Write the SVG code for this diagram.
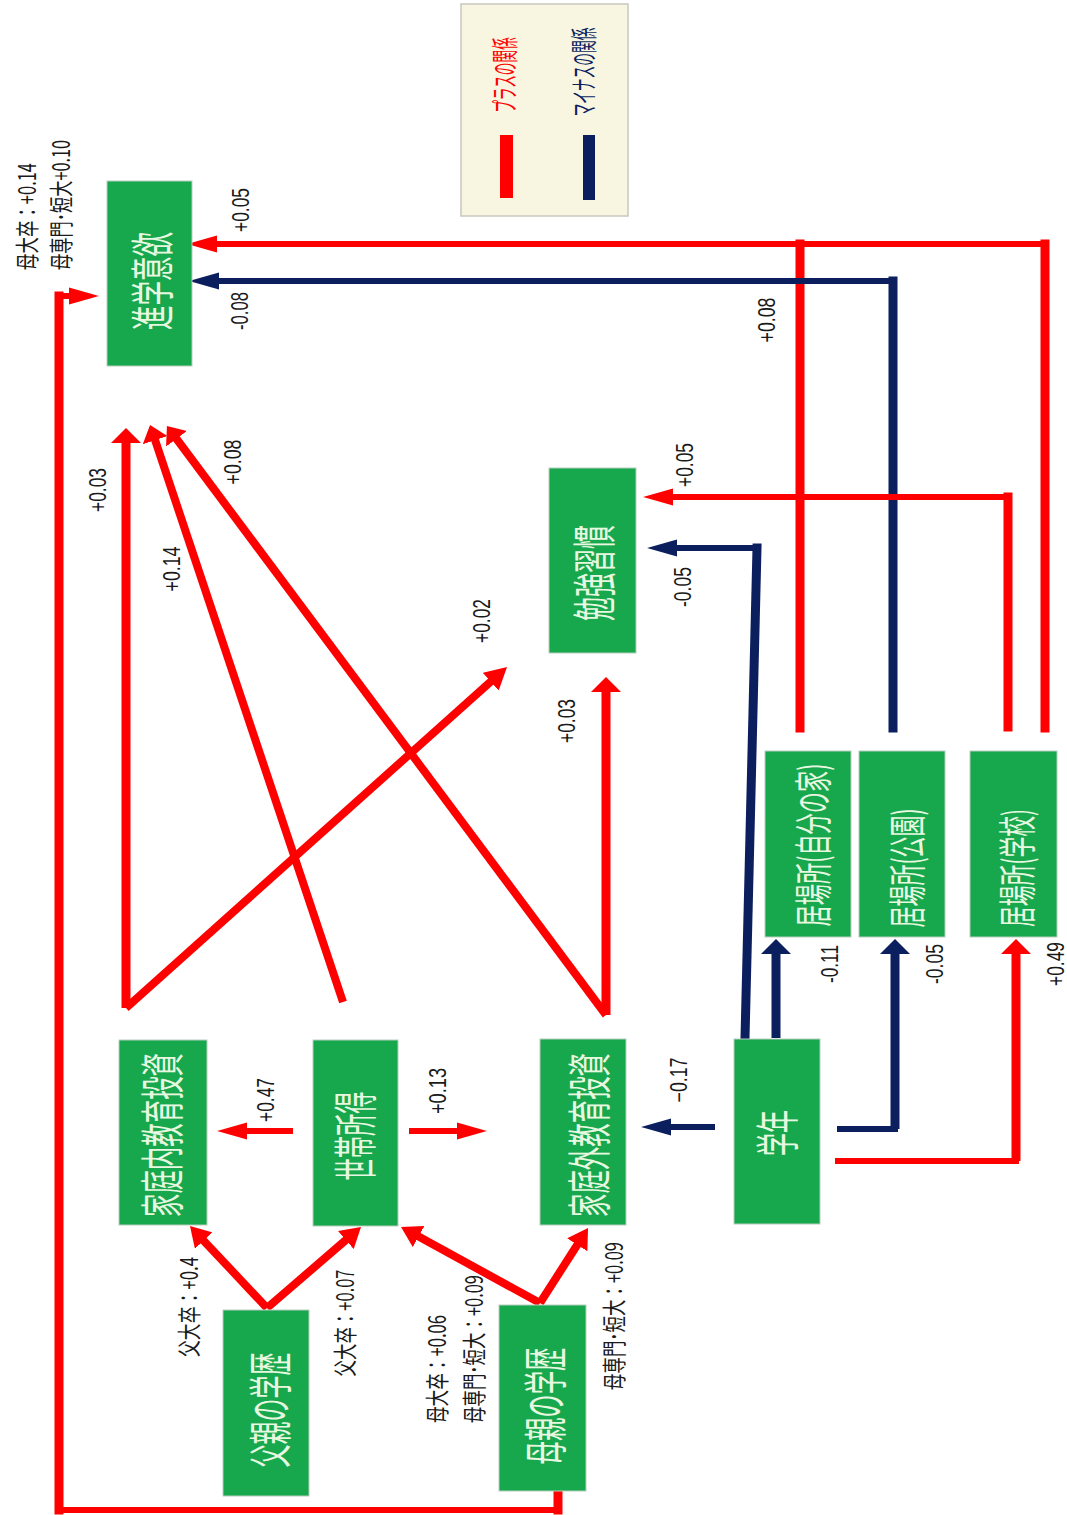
<svg xmlns="http://www.w3.org/2000/svg" width="1067" height="1515" viewBox="0 0 1067 1515">
<style>
.bg{fill:#ffffff}
.box{fill:#17a74d;stroke:#b8cdbd;stroke-width:1}
.nt{font-family:"Noto Sans CJK JP",sans-serif;font-size:44px;fill:#e8f8e0;text-anchor:middle;dominant-baseline:central}
.nts{font-family:"Noto Sans CJK JP",sans-serif;font-size:38px;fill:#e8f8e0;text-anchor:middle;dominant-baseline:central}
.lb{font-family:"Liberation Sans","Noto Sans CJK JP",sans-serif;font-size:23px;fill:#1a1a1a;text-anchor:middle;dominant-baseline:central}
.lj{font-family:"Noto Sans CJK JP",sans-serif;font-size:24px;fill:#1a1a1a;dominant-baseline:central}
.ljm{text-anchor:middle}
.ljs{text-anchor:start}
.r{stroke:#ff0000;fill:none}
.n{stroke:#0b1f5f;fill:none}
.v{stroke-width:9}
.h{stroke-width:6}
.d{stroke-width:8}
.sq{stroke-linecap:square}
.leg{fill:#f8f6e1;stroke:#c8c8c0;stroke-width:1.5}
.lt{font-family:"Noto Sans CJK JP",sans-serif;font-size:27px;text-anchor:middle;dominant-baseline:central}
</style>
<defs>
<marker id="hR" markerUnits="userSpaceOnUse" orient="auto" markerWidth="30" markerHeight="18" refX="1" refY="8" viewBox="0 0 28 16"><path d="M0,0 L28,8 L0,16 z" fill="#ff0000"/></marker>
<marker id="hN" markerUnits="userSpaceOnUse" orient="auto" markerWidth="30" markerHeight="18" refX="1" refY="8" viewBox="0 0 28 16"><path d="M0,0 L28,8 L0,16 z" fill="#0b1f5f"/></marker>
<marker id="vR" markerUnits="userSpaceOnUse" orient="auto" markerWidth="16" markerHeight="30" refX="1" refY="15" viewBox="0 0 15 30"><path d="M0,0 L15,15 L0,30 z" fill="#ff0000"/></marker>
<marker id="vN" markerUnits="userSpaceOnUse" orient="auto" markerWidth="16" markerHeight="30" refX="1" refY="15" viewBox="0 0 15 30"><path d="M0,0 L15,15 L0,30 z" fill="#0b1f5f"/></marker>
<marker id="sR" markerUnits="userSpaceOnUse" orient="auto" markerWidth="16" markerHeight="26" refX="1" refY="13" viewBox="0 0 16 26"><path d="M0,0 L16,13 L0,26 z" fill="#ff0000"/></marker>
<marker id="dR" markerUnits="userSpaceOnUse" orient="auto" markerWidth="22" markerHeight="24" refX="1" refY="12" viewBox="0 0 22 24"><path d="M0,0 L22,12 L0,24 z" fill="#ff0000"/></marker>
<marker id="fR" markerUnits="userSpaceOnUse" orient="auto" markerWidth="20" markerHeight="24" refX="1" refY="12" viewBox="0 0 20 24"><path d="M0,0 L20,12 L0,24 z" fill="#ff0000"/></marker>
</defs>
<rect class="bg" x="0" y="0" width="1067" height="1515"/>

<g id="legend">
<rect class="leg" x="461" y="4" width="167" height="212"/>
<rect x="500" y="135" width="13" height="63" fill="#ff0000"/>
<rect x="583" y="135" width="12" height="65" fill="#0b1f5f"/>
<text class="lt" fill="#ff0000" transform="translate(503,75) rotate(-90) scale(0.469,1)">プラスの関係</text>
<text class="lt" fill="#0b1f5f" transform="translate(582,72) rotate(-90) scale(0.471,1)">マイナスの関係</text>
</g>

<g id="connectors">
<line class="r v sq" x1="800" y1="728" x2="800" y2="244"/>
<line class="r v sq" x1="1045" y1="728" x2="1045" y2="244"/>
<line class="r h" x1="1045" y1="244" x2="216" y2="244" marker-end="url(#hR)"/>
<line class="n v sq" x1="893" y1="728" x2="893" y2="281"/>
<line class="n h" x1="893" y1="281" x2="218" y2="281" marker-end="url(#hN)"/>
<line class="r v sq" x1="558" y1="1492" x2="558" y2="1510"/>
<line class="r h sq" x1="558" y1="1510" x2="59" y2="1510"/>
<line class="r v sq" x1="59" y1="1510" x2="59" y2="296"/>
<line class="r h" x1="59" y1="296" x2="70" y2="296" marker-end="url(#hR)"/>
<line class="r v sq" x1="1008" y1="727" x2="1008" y2="497"/>
<line class="r h" x1="1008" y1="497" x2="672" y2="497" marker-end="url(#hR)"/>
<line class="n v sq" x1="745" y1="1038" x2="757" y2="548"/>
<line class="n h" x1="757" y1="548" x2="676" y2="548" marker-end="url(#hN)"/>
<line class="r v" x1="126" y1="1008" x2="126" y2="442" marker-end="url(#vR)"/>
<line class="r d" x1="126" y1="1008" x2="491.4" y2="681" marker-end="url(#dR)"/>
<line class="r d" x1="343" y1="1002" x2="154.8" y2="439.2" marker-end="url(#sR)"/>
<line class="r d" x1="606" y1="1015" x2="175.9" y2="438" marker-end="url(#sR)"/>
<line class="r v" x1="606" y1="1015" x2="606" y2="691" marker-end="url(#vR)"/>
<line class="n h" x1="715" y1="1127" x2="670" y2="1127" marker-end="url(#hN)"/>
<line class="n v" x1="776" y1="1038" x2="776" y2="953" marker-end="url(#vN)"/>
<line class="n h sq" x1="840" y1="1129" x2="895" y2="1129"/>
<line class="n v" x1="895" y1="1129" x2="895" y2="953" marker-end="url(#vN)"/>
<line class="r h sq" x1="838" y1="1161" x2="1016" y2="1161"/>
<line class="r v" x1="1016" y1="1161" x2="1016" y2="953" marker-end="url(#vR)"/>
<line class="r h" x1="293" y1="1131" x2="246" y2="1131" marker-end="url(#hR)"/>
<line class="r h" x1="409" y1="1131" x2="458" y2="1131" marker-end="url(#hR)"/>
<line class="r d" x1="267" y1="1308" x2="203" y2="1239.9" marker-end="url(#fR)"/>
<line class="r d" x1="267" y1="1308" x2="346.6" y2="1239.4" marker-end="url(#fR)"/>
<line class="r d" x1="540" y1="1303" x2="417.7" y2="1236.1" marker-end="url(#fR)"/>
<line class="r d" x1="540" y1="1303" x2="577.8" y2="1244" marker-end="url(#fR)"/>

<text class="lb" transform="translate(241,210) rotate(-90)" textLength="44" lengthAdjust="spacingAndGlyphs">+0.05</text>
<text class="lb" transform="translate(240,311) rotate(-90)" textLength="38" lengthAdjust="spacingAndGlyphs">-0.08</text>
<text class="lb" transform="translate(767,320) rotate(-90)" textLength="45" lengthAdjust="spacingAndGlyphs">+0.08</text>
<text class="lb" transform="translate(98,490) rotate(-90)" textLength="44" lengthAdjust="spacingAndGlyphs">+0.03</text>
<text class="lb" transform="translate(172,569) rotate(-90)" textLength="45" lengthAdjust="spacingAndGlyphs">+0.14</text>
<text class="lb" transform="translate(233,462) rotate(-90)" textLength="45" lengthAdjust="spacingAndGlyphs">+0.08</text>
<text class="lb" transform="translate(482,621) rotate(-90)" textLength="44" lengthAdjust="spacingAndGlyphs">+0.02</text>
<text class="lb" transform="translate(567,721) rotate(-90)" textLength="44" lengthAdjust="spacingAndGlyphs">+0.03</text>
<text class="lb" transform="translate(685,465) rotate(-90)" textLength="44" lengthAdjust="spacingAndGlyphs">+0.05</text>
<text class="lb" transform="translate(683,587) rotate(-90)" textLength="40" lengthAdjust="spacingAndGlyphs">-0.05</text>
<text class="lb" transform="translate(679,1080) rotate(-90)" textLength="45" lengthAdjust="spacingAndGlyphs">−0.17</text>
<text class="lb" transform="translate(266,1100) rotate(-90)" textLength="44" lengthAdjust="spacingAndGlyphs">+0.47</text>
<text class="lb" transform="translate(438,1091) rotate(-90)" textLength="46" lengthAdjust="spacingAndGlyphs">+0.13</text>
<text class="lb" transform="translate(830,964) rotate(-90)" textLength="38" lengthAdjust="spacingAndGlyphs">-0.11</text>
<text class="lb" transform="translate(935,964) rotate(-90)" textLength="40" lengthAdjust="spacingAndGlyphs">-0.05</text>
<text class="lb" transform="translate(1056,964) rotate(-90)" textLength="44" lengthAdjust="spacingAndGlyphs">+0.49</text>
<text class="lj ljs" transform="translate(25,270) rotate(-90)" textLength="107" lengthAdjust="spacingAndGlyphs">母大卒：+0.14</text>
<text class="lj ljs" transform="translate(59,270) rotate(-90)" textLength="130" lengthAdjust="spacingAndGlyphs">母専門･短大+0.10</text>
<text class="lj ljm" transform="translate(187,1307) rotate(-90)" textLength="100" lengthAdjust="spacingAndGlyphs">父大卒：+0.4</text>
<text class="lj ljm" transform="translate(343,1323) rotate(-90)" textLength="107" lengthAdjust="spacingAndGlyphs">父大卒：+0.07</text>
<text class="lj ljs" transform="translate(435,1423) rotate(-90)" textLength="108" lengthAdjust="spacingAndGlyphs">母大卒：+0.06</text>
<text class="lj ljs" transform="translate(472,1423) rotate(-90)" textLength="148" lengthAdjust="spacingAndGlyphs">母専門･短大：+0.09</text>
<text class="lj ljs" transform="translate(612,1390) rotate(-90)" textLength="148" lengthAdjust="spacingAndGlyphs">母専門･短大：+0.09</text>
</g>

<g id="n-shingaku"><rect class="box" x="107" y="181" width="85" height="185"/><text class="nt" transform="translate(150,281) rotate(-90)" textLength="98" lengthAdjust="spacingAndGlyphs">進学意欲</text></g>
<g id="n-benkyo"><rect class="box" x="549" y="468" width="87" height="185"/><text class="nt" transform="translate(592,573) rotate(-90)" textLength="96" lengthAdjust="spacingAndGlyphs">勉強習慣</text></g>
<g id="n-kateinai"><rect class="box" x="119" y="1040" width="88" height="185"/><text class="nt" transform="translate(160,1135) rotate(-90)" textLength="164" lengthAdjust="spacingAndGlyphs">家庭内教育投資</text></g>
<g id="n-setai"><rect class="box" x="313" y="1040" width="85" height="186"/><text class="nt" transform="translate(353,1136) rotate(-90)" textLength="89" lengthAdjust="spacingAndGlyphs">世帯所得</text></g>
<g id="n-kateigai"><rect class="box" x="540" y="1039" width="86" height="186"/><text class="nt" transform="translate(587,1135) rotate(-90)" textLength="164" lengthAdjust="spacingAndGlyphs">家庭外教育投資</text></g>
<g id="n-gakunen"><rect class="box" x="734" y="1039" width="86" height="185"/><text class="nt" transform="translate(775,1133) rotate(-90)" textLength="46" lengthAdjust="spacingAndGlyphs">学年</text></g>
<g id="n-chichi"><rect class="box" x="223" y="1310" width="86" height="186"/><text class="nt" transform="translate(268,1410) rotate(-90)" textLength="115" lengthAdjust="spacingAndGlyphs">父親の学歴</text></g>
<g id="n-haha"><rect class="box" x="499" y="1305" width="87" height="186"/><text class="nt" transform="translate(543,1406) rotate(-90)" textLength="117" lengthAdjust="spacingAndGlyphs">母親の学歴</text></g>
<g id="n-ibasho-ie"><rect class="box" x="765" y="751" width="86" height="186"/><text class="nts" transform="translate(810,845) rotate(-90)" textLength="163" lengthAdjust="spacingAndGlyphs">居場所(自分の家)</text></g>
<g id="n-ibasho-koen"><rect class="box" x="859" y="751" width="86" height="186"/><text class="nts" transform="translate(904,868) rotate(-90)" textLength="119" lengthAdjust="spacingAndGlyphs">居場所(公園)</text></g>
<g id="n-ibasho-gakko"><rect class="box" x="970" y="751" width="87" height="186"/><text class="nts" transform="translate(1014,868) rotate(-90)" textLength="118" lengthAdjust="spacingAndGlyphs">居場所(学校)</text></g>
</svg>
